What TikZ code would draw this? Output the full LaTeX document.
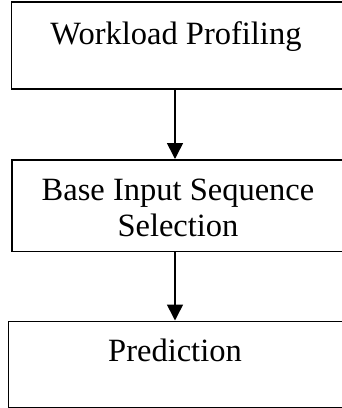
\documentclass[tikz,border=0pt]{standalone}
\usepackage{fontspec}
\setmainfont{Liberation Serif}
\usetikzlibrary{arrows.meta}
\begin{document}
\begin{tikzpicture}[x=1pt,y=-1pt,
  box/.style={draw,line width=1.6pt,inner sep=0pt,anchor=north west},
  lbl/.style={anchor=base,inner sep=0pt,font=\fontsize{32.5}{36}\selectfont},
  arr/.style={line width=1.6pt,-{Triangle[width=16pt,length=16pt]}}]
\useasboundingbox (0,0) rectangle (342,408);
\clip (0,0) rectangle (342,408);
\node[box,minimum width=331pt,minimum height=87pt] (b1) at (10.5,1) {};
\node[box,minimum width=330.5pt,minimum height=91.5pt] (b2) at (11,159) {};
\node[box,minimum width=340pt,minimum height=86pt] (b3) at (7.5,320.5) {};
\node[lbl] (t1) at (176,44) {Workload Profiling};
\node[lbl] (t2a) at (178,200) {Base Input Sequence};
\node[lbl] (t2b) at (178,236) {Selection};
\node[lbl] (t3) at (175,361) {Prediction};
\draw[arr] (b1.south -| 175,0) -- (b2.north -| 175,0);
\draw[arr] (b2.south -| 175,0) -- (b3.north -| 175,0);
\end{tikzpicture}
\end{document}
